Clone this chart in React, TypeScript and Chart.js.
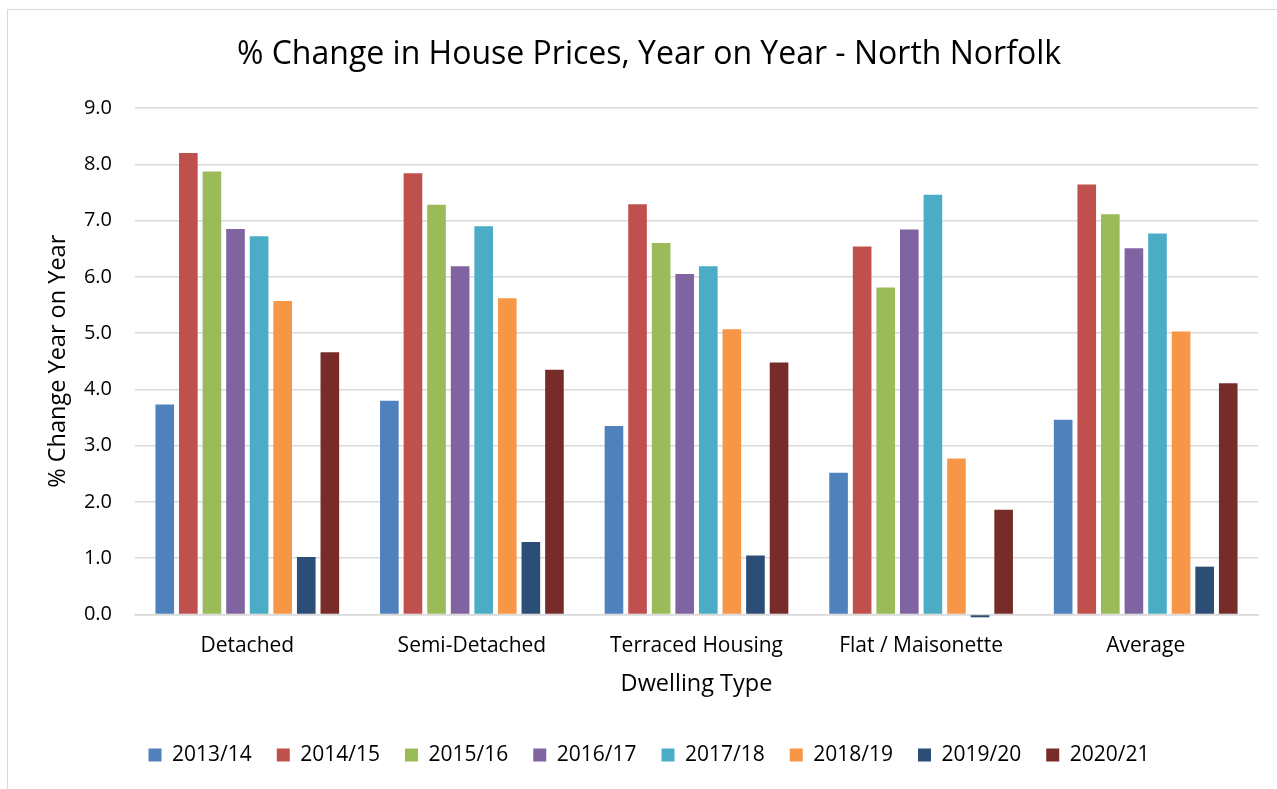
import React, { useEffect, useRef } from "react";
import { Chart, registerables } from "chart.js";

Chart.register(...registerables);

const categories = ["Detached", "Semi-Detached", "Terraced Housing", "Flat / Maisonette", "Average"];
const seriesNames = ["2013/14", "2014/15", "2015/16", "2016/17", "2017/18", "2018/19", "2019/20", "2020/21"];
const s2013 = [3.73, 3.8, 3.35, 2.52, 3.46];
const s2014 = [8.2, 7.84, 7.29, 6.54, 7.64];
const s2015 = [7.87, 7.28, 6.6, 5.81, 7.11];
const s2016 = [6.85, 6.19, 6.05, 6.84, 6.51];
const s2017 = [6.72, 6.9, 6.19, 7.46, 6.77];
const s2018 = [5.57, 5.62, 5.07, 2.77, 5.03];
const s2019 = [1.02, 1.29, 1.05, -0.05, 0.85];
const s2020 = [4.66, 4.35, 4.48, 1.86, 4.11];
const seriesValues = [s2013, s2014, s2015, s2016, s2017, s2018, s2019, s2020];
const colors = ["#4F81BD", "#C0504D", "#9BBB59", "#8064A2", "#4BACC6", "#F79646", "#2C4D75", "#772C2A"];
const yTicks = [0, 1, 2, 3, 4, 5, 6, 7, 8, 9];

const FONT = "'Open Sans', 'Noto Sans', sans-serif";

export default function App() {
  const ref = useRef<HTMLCanvasElement | null>(null);
  useEffect(() => {
    if (!ref.current) return;
    const chart = new Chart(ref.current, {
      type: "bar",
      data: {
        labels: categories,
        datasets: seriesNames.map((n, i) => ({
          label: n,
          data: seriesValues[i],
          backgroundColor: colors[i],
          borderWidth: 0,
          categoryPercentage: 0.84,
          barPercentage: 0.79,
          clip: false as any,
        })),
      },
      options: {
        responsive: false,
        animation: false,
        devicePixelRatio: 1,
        layout: { padding: { left: 40, right: 19, top: 18, bottom: 13.5 } },
        plugins: {
          title: {
            display: true,
            text: "% Change in House Prices, Year on Year - North Norfolk",
            color: "#000",
            font: { family: FONT, size: 32, weight: "normal" },
            padding: { top: 17.8, bottom: 33.8 },
          },
          legend: {
            position: "bottom",
            labels: {
              boxWidth: 13,
              boxHeight: 13,
              padding: 25,
              color: "#000",
              font: { family: FONT, size: 21 },
            },
          },
          tooltip: { enabled: false },
        },
        scales: {
          x: {
            afterFit: (axis: any) => {
              axis.height = 105;
            },
            grid: { display: false, drawTicks: false },
            border: { display: true, color: "#d9d9d9", width: 1.5 },
            ticks: { color: "#000", font: { family: FONT, size: 21 }, padding: 19.4 },
            title: {
              display: true,
              text: "Dwelling Type",
              color: "#000",
              font: { family: FONT, size: 23.5 },
              padding: { top: 10, bottom: 20.9 },
            },
          },
          y: {
            min: 0,
            max: 9,
            afterBuildTicks: (axis: any) => {
              axis.ticks = yTicks.map((v) => ({ value: v }));
            },
            afterFit: (axis: any) => {
              axis.width = 95;
            },
            grid: { color: "#d9d9d9", lineWidth: 1.5, drawTicks: false },
            border: { display: false },
            ticks: {
              color: "#000",
              font: { family: FONT, size: 20 },
              padding: 23,
              callback: (v: any) => Number(v).toFixed(1),
            },
            title: {
              display: true,
              text: "% Change Year on Year",
              color: "#000",
              font: { family: FONT, size: 23.5 },
              padding: { top: 3.9, bottom: 4 },
            },
          },
        },
      },
    });
    return () => chart.destroy();
  }, []);
  return (
    <>
      <div
        style={{
          position: "fixed",
          left: 7,
          top: 9,
          width: 1300,
          height: 820,
          border: "1px solid #d9d9d9",
          pointerEvents: "none",
        }}
      />
      <canvas
        ref={ref}
        width={1277}
        height={789}
        style={{ position: "fixed", left: 0, top: 0, width: 1277, height: 789 }}
      />
    </>
  );
}
